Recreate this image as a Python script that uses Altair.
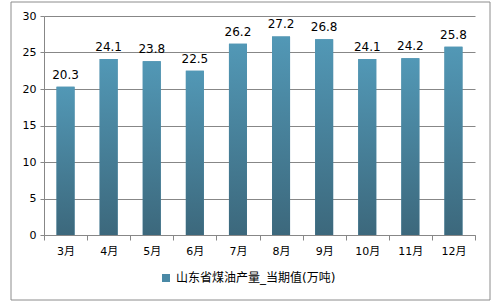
import altair as alt
import pandas as pd

months = ["3月", "4月", "5月", "6月", "7月", "8月", "9月", "10月", "11月", "12月"]
values = [20.3, 24.1, 23.8, 22.5, 26.2, 27.2, 26.8, 24.1, 24.2, 25.8]
series_name = "山东省煤油产量_当期值(万吨)"
y_ticks = [0, 5, 10, 15, 20, 25, 30]

df = pd.DataFrame({"month": months, "value": values, "series": [series_name] * len(months)})

FONT = "DejaVu Sans, Noto Sans CJK SC"
GRID = "#878787"

x = alt.X(
    "month:N", sort=months, title=None,
    scale=alt.Scale(paddingInner=0, paddingOuter=0),
    axis=alt.Axis(labelAngle=0, tickBand="extent", domainColor=GRID, tickColor=GRID,
                  tickSize=5, labelFontSize=11, labelColor="#000000", labelPadding=5,
                  labelFont=FONT, grid=False),
)
y = alt.Y(
    "value:Q", title=None,
    scale=alt.Scale(domain=[0, 30], nice=False),
    axis=alt.Axis(values=y_ticks, grid=True, gridColor=GRID, domainColor=GRID,
                  tickColor=GRID, tickSize=4, labelPadding=4, labelFontSize=11,
                  labelColor="#000000", labelFont=FONT),
)

base = alt.Chart(df)

legend_bars = base.mark_bar(size=18).encode(
    x=x, y=y,
    color=alt.Color(
        "series:N",
        scale=alt.Scale(range=["#4A89A6"]),
        legend=alt.Legend(title=None, orient="none", legendX=116, legendY=256,
                          symbolType="square", symbolSize=64, symbolStrokeWidth=0,
                          labelFontSize=12, labelFont=FONT, labelColor="#000000"),
    ),
)

grad_bars = base.mark_bar(
    size=18,
    color=alt.Gradient(
        gradient="linear",
        stops=[alt.GradientStop(color="#5298B6", offset=0),
               alt.GradientStop(color="#3C687C", offset=1)],
        x1=0, x2=0, y1=0, y2=1,
    ),
).encode(x=x, y=y)

labels = base.mark_text(dy=-5, baseline="bottom", fontSize=12, font=FONT, color="#000000").encode(
    x=x, y=y, text=alt.Text("value:Q", format=".1f")
)

border = alt.Chart(pd.DataFrame({"a": [0]})).mark_rect(
    fillOpacity=0, stroke="#8C8C8C", strokeWidth=1
).encode(x=alt.value(-33), x2=alt.value(446), y=alt.value(-14), y2=alt.value(284))

chart = alt.layer(legend_bars, grad_bars, labels, border).properties(
    width=431, height=219,
    autosize=alt.AutoSizeParams(type="none"),
    padding={"left": 44, "top": 16, "right": 27, "bottom": 70},
    background="#ffffff",
).configure_view(stroke=None)

chart.save("out.html", embed_options={"renderer": "svg", "actions": False})
